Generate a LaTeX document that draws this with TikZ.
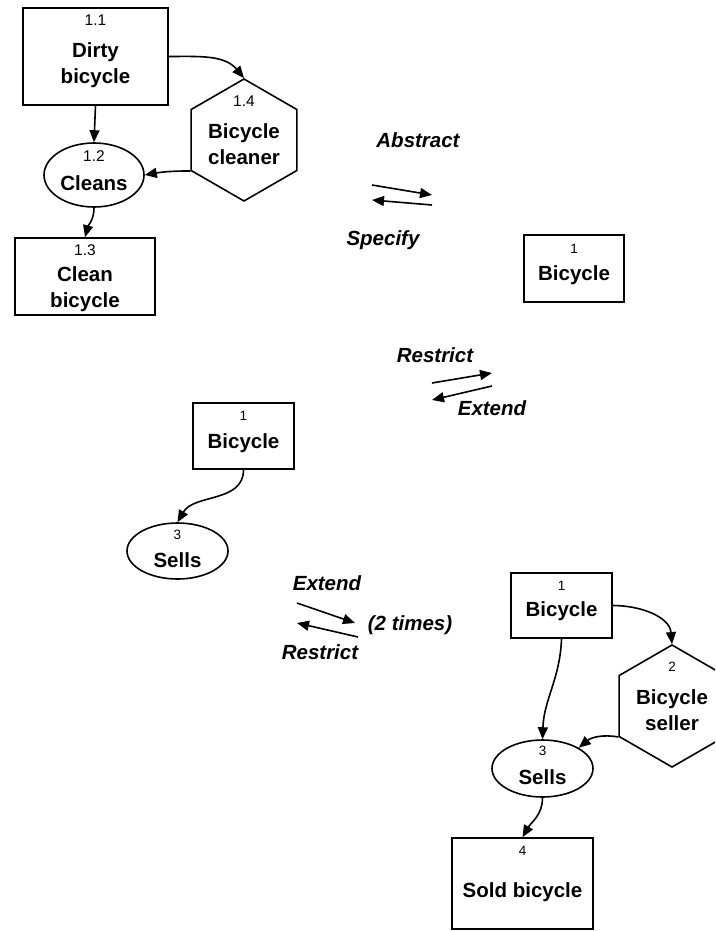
\documentclass[tikz,border=0pt]{standalone}
\usepackage{fontspec}
\setmainfont{Liberation Sans}
\usetikzlibrary{arrows.meta,shapes.geometric}
\begin{document}
\begin{tikzpicture}[x=1pt,y=-1pt,
  line width=1.6pt,
  box/.style={draw,rectangle,inner sep=0pt},
  proc/.style={draw,ellipse,inner sep=0pt},
  actor/.style={draw,regular polygon,regular polygon sides=6,shape border rotate=30,
    minimum size=122pt,inner sep=0pt},
  num/.style={inner sep=0pt,font=\fontsize{13.5}{15}\selectfont},
  bignum/.style={inner sep=0pt,font=\fontsize{15.5}{17}\selectfont},
  lbl/.style={inner sep=0pt,align=center,font=\bfseries\fontsize{20.5}{26}\selectfont},
  op/.style={inner sep=0pt,font=\bfseries\itshape\fontsize{20.5}{25}\selectfont},
  flow/.style={-{Triangle[length=12pt,width=10pt]}},
]
\useasboundingbox (0,0) rectangle (715,931);

% ---------- cleaning model ----------
\node[box,minimum width=145pt,minimum height=97pt] (dirty) at (95.5,56.5) {};
\node[bignum] (dirtyn) at (95.5,20) {1.1};
\node[lbl] (dirtyl) at (95.5,65) {Dirty\\bicycle};

\node[proc,minimum width=100pt,minimum height=64pt] (cleans) at (94,175) {};
\node[bignum] (cleansn) at (94,156) {1.2};
\node[lbl] (cleansl) at (94,183) {Cleans};

\node[box,minimum width=140pt,minimum height=77pt] (clean) at (85,276.5) {};
\node[bignum] (cleann) at (85,250) {1.3};
\node[lbl] (cleanl) at (85,289) {Clean\\bicycle};

\node[actor] (cleaner) at (244,140) {};
\node[bignum] (cleanern) at (244,101) {1.4};
\node[lbl] (cleanerl) at (244,144) {Bicycle\\cleaner};

\draw[flow] (dirty.south) -- (cleans.north);
\draw[flow] (dirty.east) to[out=0,in=130] (cleaner.corner 1);
\draw[flow] (cleaner.corner 3) to[out=180,in=10] (cleans.east);
\draw[flow] (cleans.south) to[out=-90,in=75] (clean.north);

% ---------- abstract / specify ----------
\node[op] (abstract) at (418,140) {Abstract};
\node[op] (specify) at (383,240) {Specify};
\coordinate (as1) at (372,185);
\coordinate (as2) at (432,195);
\coordinate (as3) at (432,205);
\coordinate (as4) at (372,200);
\draw[flow] (as1) -- (as2);
\draw[flow] (as3) -- (as4);

\node[box,minimum width=100pt,minimum height=67pt] (bike1) at (574,268.5) {};
\node[num] (bike1n) at (574,249) {1};
\node[lbl] (bike1l) at (574,275) {Bicycle};

% ---------- restrict / extend ----------
\node[op] (restrict1) at (435,355) {Restrict};
\node[op] (extend1) at (492,408) {Extend};
\coordinate (re1) at (432,383);
\coordinate (re2) at (492,373);
\coordinate (re3) at (492,386);
\coordinate (re4) at (432,400);
\draw[flow] (re1) -- (re2);
\draw[flow] (re3) -- (re4);

\node[box,minimum width=101pt,minimum height=66pt] (bike2) at (243.5,436) {};
\node[num] (bike2n) at (243.5,416) {1};
\node[lbl] (bike2l) at (243.5,443) {Bicycle};

\node[proc,minimum width=101pt,minimum height=56pt] (sells2) at (177.5,551) {};
\node[num] (sells2n) at (177.5,535) {3};
\node[lbl] (sells2l) at (177.5,560) {Sells};

\draw[flow] (bike2.south) to[out=-90,in=60] (sells2.north);

% ---------- extend / restrict twice ----------
\node[op] (extend2) at (327,583) {Extend};
\node[op] (restrict2) at (320,652) {Restrict};
\node[op] (twice) at (410,625) {(2 times)};
\coordinate (er1) at (297,603);
\coordinate (er2) at (355,623);
\coordinate (er3) at (358,637);
\coordinate (er4) at (297,623);
\draw[flow] (er1) -- (er2);
\draw[flow] (er3) -- (er4);

% ---------- selling model ----------
\begin{scope}
\clip (0,0) rectangle (715,931);
\node[box,minimum width=101pt,minimum height=65pt] (bike3) at (561.5,605.5) {};
\node[num] (bike3n) at (561.5,586) {1};
\node[lbl] (bike3l) at (561.5,611) {Bicycle};

\node[actor] (seller) at (672,706) {};
\node[num] (sellern) at (672,667) {2};
\node[lbl] (sellerl) at (672,710) {Bicycle\\seller};

\node[proc,minimum width=101pt,minimum height=57pt] (sells3) at (542.5,768.5) {};
\node[num] (sells3n) at (542.5,751) {3};
\node[lbl] (sells3l) at (542.5,777) {Sells};

\node[box,minimum width=141pt,minimum height=91pt] (sold) at (522.5,883.5) {};
\node[num] (soldn) at (522.5,851) {4};
\node[lbl] (soldl) at (522.5,892) {Sold bicycle};

\draw[flow] (bike3.south) to[out=-92,in=88] (sells3.north);
\draw[flow] (bike3.east) to[out=0,in=95] (seller.corner 1);
\draw[flow] (seller.corner 3) to[out=170,in=40] (sells3.north east);
\draw[flow] (sells3.south) to[out=-90,in=60] (sold.north);
\end{scope}
\end{tikzpicture}
\end{document}
